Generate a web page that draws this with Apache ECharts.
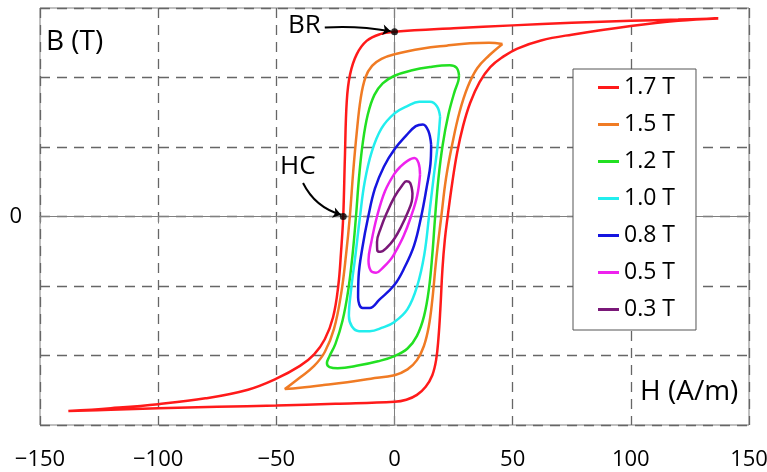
<!DOCTYPE html>
<html>
<head>
	<meta charset="utf-8">
	<title>Hysteresis loops</title>
	<script src="https://cdn.jsdelivr.net/npm/echarts@6/dist/echarts.min.js"></script>
	<style>
		html,body{margin:0;padding:0;background:#fff}
		#main{width:767px;height:472px}
	</style>
</head>
<body>
<div id="main"></div>
<script>
	// loops, [H (A/m), B (T)], each path closed
	var loop17 = [[137,1.71],[120,1.70],[100,1.69],[75,1.672],[50,1.65],[25,1.625],[0,1.594],[-6.1,1.574],[-11.8,1.516],[-16,1.40],[-18.8,1.227],[-20.2,0.995],[-21,0.5],[-21.7,0],[-22.6,-0.3],[-23.8,-0.6],[-26,-0.87],[-29.5,-1.06],[-34,-1.19],[-40,-1.29],[-50,-1.40],[-62,-1.495],[-80,-1.57],[-100,-1.62],[-120,-1.655],[-138,-1.68],[-120,-1.668],[-100,-1.655],[-75,-1.643],[-50,-1.632],[-25,-1.617],[0,-1.60],[5,-1.582],[9.5,-1.54],[13.2,-1.47],[16,-1.37],[17.6,-1.24],[18.6,-1.05],[19.4,-0.8],[20.3,-0.45],[21.3,-0.2],[22.5,0],[24.5,0.3],[26.5,0.55],[29,0.78],[32,0.98],[36,1.16],[40.5,1.29],[46,1.38],[52,1.45],[62,1.52],[75,1.57],[100,1.645],[120,1.69],[137,1.71]];
	var loop15 = [[45.7,1.49],[40,1.50],[32,1.495],[22,1.475],[12,1.45],[0,1.40],[-5.5,1.36],[-9.5,1.3],[-12.3,1.2],[-14.3,1.02],[-16,0.72],[-17.5,0.38],[-18.9,0],[-20.5,-0.33],[-22.6,-0.67],[-25.6,-0.97],[-29.5,-1.17],[-34,-1.29],[-40,-1.39],[-46.4,-1.49],[-40,-1.478],[-30,-1.455],[-20,-1.43],[-10,-1.40],[0,-1.37],[5.5,-1.32],[9.5,-1.24],[12.4,-1.12],[14.5,-0.95],[16,-0.72],[17.6,-0.38],[19.8,0],[21.8,0.33],[24.5,0.63],[27.5,0.9],[31,1.12],[35,1.28],[40,1.39],[45.7,1.49]];
	var loop12 = [[27.3,1.22],[26.2,1.285],[23.4,1.305],[15,1.29],[7,1.26],[0,1.215],[-5,1.15],[-8.5,1.05],[-11.3,0.88],[-13.4,0.64],[-15,0.34],[-16.3,0],[-17.8,-0.34],[-19.6,-0.64],[-22,-0.9],[-25,-1.1],[-27.6,-1.21],[-28.6,-1.265],[-27.5,-1.30],[-24,-1.31],[-15,-1.285],[-7,-1.25],[0,-1.205],[5.5,-1.14],[9.5,-1.03],[12.5,-0.86],[14.6,-0.62],[16,-0.33],[17.2,0],[18.6,0.33],[20.4,0.62],[22.8,0.88],[25.3,1.07],[27,1.17],[27.3,1.22]];
	var loop10 = [[19.3,0.86],[18,0.95],[15,0.99],[10.5,0.99],[5.2,0.95],[0,0.89],[-5.5,0.76],[-9.6,0.56],[-12.6,0.30],[-14.6,0],[-16.5,-0.33],[-18.3,-0.62],[-19.3,-0.86],[-18,-0.95],[-15,-0.99],[-10.5,-0.99],[-5.2,-0.96],[0,-0.91],[5.5,-0.80],[9.6,-0.60],[12.6,-0.33],[14.6,0],[16.5,0.33],[18.3,0.62],[19.3,0.86]];
	var loop08 = [[15.5,0.62],[14.3,0.74],[12,0.795],[9,0.78],[5,0.70],[0,0.58],[-4.5,0.43],[-8.3,0.24],[-11.1,0],[-13.6,-0.27],[-15.2,-0.52],[-15.4,-0.70],[-13.5,-0.79],[-10.5,-0.79],[-6.5,-0.72],[0,-0.59],[4.5,-0.43],[8.3,-0.25],[11.3,0],[13.6,0.25],[15.2,0.45],[15.5,0.62]];
	var loop05 = [[10.8,0.36],[10.2,0.46],[8.4,0.505],[5.5,0.48],[2.5,0.43],[0,0.37],[-4,0.22],[-7.4,0],[-9.8,-0.22],[-11,-0.38],[-10,-0.47],[-7.8,-0.485],[-4.8,-0.44],[-2,-0.38],[0,-0.32],[3.8,-0.17],[7,0],[9.6,0.18],[10.8,0.36]];
	var loop03 = [[7.6,0.2],[6.6,0.29],[5,0.305],[3.3,0.27],[0,0.17],[-3.3,0.03],[-5.8,-0.1],[-7.4,-0.22],[-7.3,-0.29],[-6,-0.305],[-3.3,-0.27],[0,-0.19],[3,-0.08],[5.5,0.03],[7.3,0.13],[7.6,0.2]];

	var loopNames = ['1.7 T','1.5 T','1.2 T','1.0 T','0.8 T','0.5 T','0.3 T'];
	var loopColors = ['#ff1a1a','#f07b24','#22e022','#22eeee','#1515e0','#ee22ee','#7a1878'];
	var loops = [loop17, loop15, loop12, loop10, loop08, loop05, loop03];

	// BR and HC points, and the arrows pointing at them
	var markers = [[0,1.594],[-21.7,0]];
	var arrowBR = [[-29.5,1.632],[-1.6,1.60]];
	var arrowHC = [[-38.7,0.289],[-22.6,0.015]];

	var FONT = '"Open Sans", "Noto Sans", sans-serif';
	var chart = echarts.init(document.getElementById('main'));

	var series = loops.map(function(d, i){
		return {
			name: loopNames[i],
			type: 'line',
			data: d,
			symbol: 'none',
			smooth: 0.4,
			color: loopColors[i],
			lineStyle: {width: 2.5, color: loopColors[i]},
			z: 3
		};
	});
	series.push({
		type: 'lines',
		coordinateSystem: 'cartesian2d',
		symbol: ['none','arrow'],
		symbolSize: 8,
		lineStyle: {color:'#000', width: 2, opacity: 1},
		data: [
			{coords: arrowBR, lineStyle: {curveness: 0.06}},
			{coords: arrowHC, lineStyle: {curveness: -0.22}}
		],
		z: 5
	});
	series.push({
		type: 'scatter',
		data: markers,
		symbolSize: 7,
		itemStyle: {color:'#000'},
		z: 6
	});

	var option = {
		animation: false,
		backgroundColor: '#fff',
		grid: {left: 40, right: 18, top: 8, bottom: 47, outerBoundsMode: 'none', containLabel: false,
			show: true, borderColor: '#808080', borderWidth: 1},
		legend: {
			data: loopNames,
			orient: 'vertical',
			left: 573, top: 69,
			padding: [7, 21, 9, 25],
			itemGap: 14,
			icon: 'rect',
			itemWidth: 21, itemHeight: 3,
			backgroundColor: '#fff',
			borderColor: '#555', borderWidth: 1,
			textStyle: {fontFamily: FONT, fontSize: 23, color: '#000', lineHeight: 22}
		},
		xAxis: {
			type: 'value', min: -150, max: 150, interval: 50,
			axisLine: {lineStyle: {color: '#808080'}},
			axisTick: {length: 7, lineStyle: {color: '#808080'}},
			axisLabel: {
				fontFamily: FONT, fontSize: 22, color: '#000', margin: 24,
				formatter: function(v){ return String(v).replace('-', '\u2212'); }
			},
			splitLine: {lineStyle: {color: '#666', type: [10, 7], width: 1.3}}
		},
		yAxis: {
			type: 'value', min: -1.8, max: 1.8, interval: 0.6,
			axisLine: {show: true, lineStyle: {color: '#808080'}},
			axisTick: {show: true, length: 7, lineStyle: {color: '#808080'}},
			axisLabel: {
				fontFamily: FONT, fontSize: 22, color: '#000', margin: 18,
				formatter: function(v){ return Math.abs(v) < 1e-9 ? '0' : ''; }
			},
			splitLine: {lineStyle: {color: '#666', type: [10, 7], width: 1.3}}
		},
		graphic: [
			{type: 'text', left: 46, top: 28, style: {text: 'B (T)', font: '28px ' + FONT, fill: '#000'}},
			{type: 'text', left: 640, top: 378, style: {text: 'H (A/m)', font: '28px ' + FONT, fill: '#000'}},
			{type: 'text', left: 288, top: 13, style: {text: 'BR', font: '26px ' + FONT, fill: '#000'}},
			{type: 'text', left: 280, top: 154, style: {text: 'HC', font: '26px ' + FONT, fill: '#000'}}
		],
		series: series
	};
	chart.setOption(option);
</script>
</body>
</html>
